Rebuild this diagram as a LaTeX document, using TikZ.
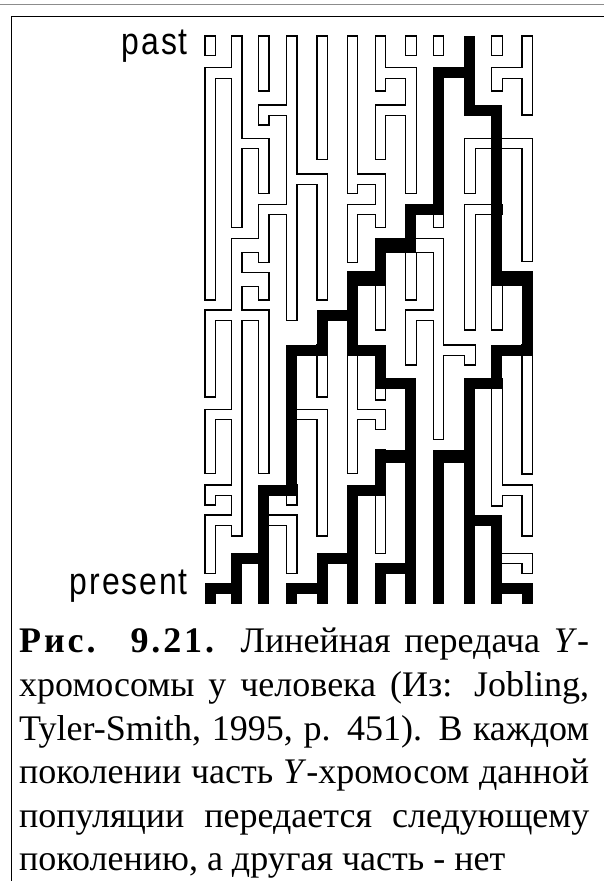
\documentclass[tikz,border=0pt]{standalone}
\usepackage{fontspec}
\setmainfont{Liberation Serif}
\newfontfamily\tagfont[FakeStretch=0.84, LetterSpace=5]{Liberation Sans}
% centres of the twelve columns (one per male line)
\def\colx{{210.25,236.75,263.75,291.75,322.25,352.55,380.55,410.95,438.55,469.95,496.95,527.25}}
\tikzset{
  tube/.style={draw=black, line width=1.1pt, double=white, double distance=9.4pt,
    line cap=rect, line join=miter},
  lineage/.style={draw=black, line width=11pt, line cap=rect},
  tag/.style={font=\tagfont\fontsize{38}{38}\selectfont, anchor=base east, inner sep=0pt},
}
\begin{document}
\begin{tikzpicture}[x=1pt,y=-1pt]
  \useasboundingbox (0,0) rectangle (604,881);

  % page rule and frame
  \draw[black!45, line width=1.4pt] (0,4.5) -- (604,4.5);
  \draw[line width=1.7pt] (604,16.5) -- (11.5,16.5) -- (11.5,881);

  % extinct lines: column/top/bottom, then rungs: top/from/to
  \draw[tube]
    foreach \c/\a/\b in {1/36/55.7, 1/67.7/300, 1/310/397, 1/409.3/473.3, 1/485/505, 1/515/573.3,
      2/36/227.3, 2/238.3/536,
      3/36/91, 3/105/125, 3/138.3/193.3, 3/204.3/262.3, 3/272.3/300, 3/310/473.3,
      4/36/320.7, 4/485/505, 4/515/573.3,
      5/36/159.3, 5/174/300, 5/345/397, 5/409.3/536,
      6/36/193.3, 6/204.3/262.3, 6/345/473.3,
      7/36/91, 7/105/159.3, 7/174/227.3, 7/238.3/330, 7/378.3/400, 7/409.3/429.3, 7/450/553.3,
      8/36/55.7, 8/67.7/193.3, 8/238.3/300, 8/310/365,
      9/36/55.7, 9/204.3/227.3, 9/238.3/439.3,
      10/138.3/193.3, 10/204.3/330, 10/345/365,
      11/36/55.7, 11/67.7/91, 11/271.7/330, 11/378.3/506,
      12/36/115, 12/138.3/261.7, 12/345/474, 12/485/536, 12/553.3/573.3}
      { ({\colx[\c-1]},{\a+5.25}) -- ({\colx[\c-1]},{\b-5.25}) }
    foreach \y/\p/\q in {67.7/1/2, 67.7/7/8, 67.7/11/12,
      105/3/4, 105/7/8, 138.3/2/3, 138.3/10/12,
      174/4/5, 174/6/7, 204.3/3/4, 204.3/6/7, 204.3/10/11,
      238.3/2/3, 241.8/2/3, 238.3/8/9, 241.8/8/9, 272.3/2/3, 275.8/2/3,
      310/1/3, 310/8/9, 345/9/10,
      409.3/1/2, 409.3/4/5, 409.3/6/7, 485/1/2, 485/11/12,
      515/1/2, 515/3/4, 553.3/11/12}
      { ({\colx[\p-1]},{\y+5.25}) -- ({\colx[\q-1]},{\y+5.25}) };

  % lines that reach the present
  \draw[lineage]
    foreach \c/\a/\b in {10/36/115.5, 9/67.7/214.8, 11/105/286, 8/204.3/252.3,
      7/238.3/286, 6/271.7/355.5, 12/271.7/355.5, 5/310/355.5,
      4/345/495.5, 7/345/388.5, 11/345/388.5, 8/378.3/604, 10/378.3/604,
      7/450/495.5, 9/450/604, 3/485/604, 6/485/604, 11/515/604,
      2/553.3/604, 5/553.3/604, 7/563.3/604, 1/583.3/604, 4/583.3/604, 12/583.3/604}
      { ({\colx[\c-1]},{\a+5.25}) -- ({\colx[\c-1]},{\b-5.25}) }
    foreach \y/\p/\q in {67.7/9/10, 105/10/11, 204.3/8/9,
      238.3/7/8, 241.8/7/8, 271.7/6/7, 275.2/6/7, 271.7/11/12, 275.2/11/12,
      310/5/6, 345/4/5, 345/6/7, 345/11/12, 378.3/7/8, 378.3/10/11,
      450/7/8, 452.5/7/8, 450/9/10, 452.5/9/10, 485/3/4, 485/6/7, 515/10/11,
      553.3/2/3, 553.3/5/6, 563.3/7/8, 583.3/1/2, 583.3/4/5, 583.3/11/12}
      { ({\colx[\p-1]},{\y+5.25}) -- ({\colx[\q-1]},{\y+5.25}) };

  \node[tag] (past) at (188,54) {past};
  \node[tag] (present) at (188,594) {present};

  \node[anchor=north west, inner sep=0pt, align=left,
    font=\fontsize{36}{43.6}\selectfont] (caption) at (19,628) {%
    \makebox[570pt][s]{{\bfseries\addfontfeatures{LetterSpace=8}Рис. 9.21.} Линейная передача \textit{Y}-}\\
    \makebox[570pt][s]{хромосомы у человека (Из: Jobling,}\\
    \makebox[570pt][s]{Tyler-Smith, 1995, p. 451). В каждом}\\
    \makebox[570pt][s]{поколении часть \textit{Y}-хромосом данной}\\
    \makebox[570pt][s]{популяции передается следующему}\\
    поколению, а другая часть - нет};
\end{tikzpicture}
\end{document}
